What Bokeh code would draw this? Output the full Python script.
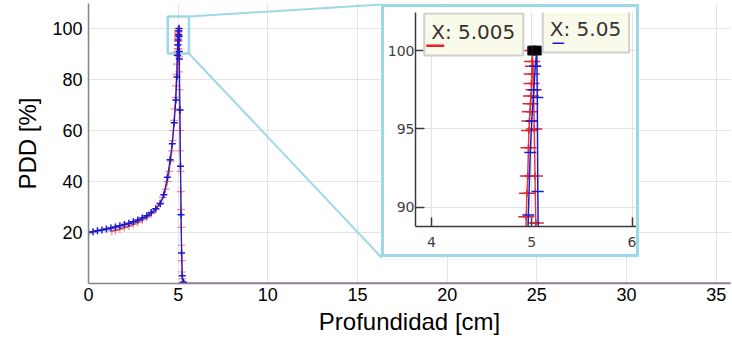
from bokeh.plotting import figure
from bokeh.models import Range1d, FixedTicker, Label
from bokeh.embed import file_html
from bokeh.resources import INLINE

# ---------------- data ----------------
depth_blue = [0.00, 0.25, 0.50, 0.75, 1.00, 1.25, 1.50, 1.75, 2.00, 2.25, 2.50, 2.75,
              3.00, 3.25, 3.50, 3.75, 4.00, 4.20, 4.40, 4.55, 4.67, 4.78, 4.87, 4.93,
              4.966, 4.985, 5.00, 5.02, 5.035, 5.05, 5.055, 5.06, 5.065, 5.10, 5.13,
              5.16, 5.19, 5.23, 5.28, 5.32]
pdd_blue = [20.0, 20.3, 20.7, 21.0, 21.4, 21.8, 22.2, 22.6, 23.1, 23.6, 24.2, 24.9,
            25.7, 26.6, 27.8, 29.3, 31.3, 34.8, 41.7, 48.5, 54.8, 63.0, 72.0, 81.0,
            89.5, 93.5, 95.5, 97.5, 99.0, 100.0, 97.0, 91.0, 88.0, 68.0, 46.0,
            27.0, 12.0, 3.0, 0.5, 0.0]

depth_red = [1.30, 1.50, 1.75, 2.00, 2.25, 2.50, 2.75, 3.00, 3.25, 3.50, 3.75, 4.00,
             4.15, 4.30, 4.40, 4.50, 4.58, 4.64, 4.69, 4.73, 4.77, 4.81, 4.85, 4.88,
             4.91, 4.93, 4.945, 4.952, 4.960, 4.967, 4.972, 4.977, 4.982, 4.987, 4.992,
             4.997, 5.000, 5.003, 5.005, 5.012, 5.018, 5.025, 5.032, 5.040, 5.055,
             5.070, 5.085, 5.100, 5.115, 5.130, 5.145, 5.160, 5.175, 5.190, 5.205,
             5.220, 5.240, 5.270, 5.300]
pdd_red = [20.5, 20.8, 21.3, 21.9, 22.5, 23.2, 24.0, 24.9, 26.0, 27.4, 29.2, 31.6,
           33.8, 37.0, 40.0, 44.0, 48.0, 52.0, 56.0, 60.0, 64.0, 68.5, 73.0, 77.5,
           82.0, 86.0, 89.4, 90.9, 92.0, 93.8, 94.9, 95.5, 96.1, 96.6, 97.1,
           97.9, 98.5, 99.3, 100.0, 99.0, 97.5, 95.0, 92.0, 89.0, 83.0,
           76.0, 68.0, 60.0, 52.0, 44.0, 36.0, 29.0, 22.0, 15.0, 9.0,
           4.5, 1.8, 0.5, 0.0]

tail_depth = [5.32, 36.0]
tail_pdd = [0.0, 0.0]

tip_depth = [5.005, 5.05]
tip_pdd = [100.0, 100.0]
tip_labels = ["X: 5.005", "X: 5.05"]

x_ticks = [0, 5, 10, 15, 20, 25, 30, 35]
y_ticks = [20, 40, 60, 80, 100]
inset_x_ticks = [4, 5, 6]
inset_y_ticks = [90, 95, 100]

# zoom window drawn on the main plot and connector end points
zoom_left, zoom_right, zoom_bottom, zoom_top = 4.42, 5.6, 90.2, 104.7
conn_x, conn_top, conn_bottom = 16.34, 109.4, 10.2

BLUE = "#1a1ad0"
RED = "#e0262e"
CYAN = "#9dd8e8"
MAIN_FONT = "Liberation Sans"
INSET_FONT = "DejaVu Sans"

# ---------------- main figure ----------------
p = figure(width=732, height=341, x_range=Range1d(0, 35.8), y_range=Range1d(0, 109.8),
           output_backend="svg", toolbar_location=None,
           min_border_left=88, min_border_right=2, min_border_top=3, min_border_bottom=58)
p.outline_line_color = None
p.background_fill_color = "white"
p.border_fill_color = "white"

p.xaxis.ticker = FixedTicker(ticks=x_ticks)
p.yaxis.ticker = FixedTicker(ticks=y_ticks)
p.xgrid.ticker = FixedTicker(ticks=x_ticks)
p.ygrid.ticker = FixedTicker(ticks=y_ticks)
p.grid.grid_line_color = "#e4e4e4"
p.grid.grid_line_width = 1

for ax in (p.xaxis[0], p.yaxis[0]):
    ax.axis_line_color = "#858585"
    ax.axis_line_width = 1.5
    ax.major_tick_out = 0
    ax.major_tick_in = 0
    ax.minor_tick_out = 0
    ax.minor_tick_in = 0
    ax.major_label_text_font = MAIN_FONT
    ax.major_label_text_font_size = "18px"
    ax.major_label_text_color = "black"
    ax.axis_label_text_font = MAIN_FONT
    ax.axis_label_text_font_size = "24px"
    ax.axis_label_text_font_style = "normal"
    ax.axis_label_text_color = "black"
p.xaxis.axis_label = "Profundidad [cm]"
p.yaxis.axis_label = "PDD [%]"
p.xaxis.major_label_standoff = 4
p.yaxis.major_label_standoff = 6
p.xaxis.axis_label_standoff = 4
p.yaxis.axis_label_standoff = 8

# connectors and zoom box
p.segment(x0=[zoom_right, zoom_right], y0=[zoom_top, zoom_bottom],
          x1=[conn_x, conn_x], y1=[conn_top, conn_bottom], line_color=CYAN, line_width=2)
p.quad(left=[zoom_left], right=[zoom_right], bottom=[zoom_bottom], top=[zoom_top],
       fill_color=None, line_color=CYAN, line_width=2.5)

# curves
p.line(tail_depth, tail_pdd, line_color=BLUE, line_width=2, line_alpha=0.6)
p.line(tail_depth, tail_pdd, line_color=RED, line_width=2, line_alpha=0.4)
p.line(depth_red, pdd_red, line_color=RED, line_width=1.2, line_alpha=0.8)
p.scatter(depth_red, pdd_red, marker="cross", size=8, line_color=RED, line_alpha=0.5, line_width=1.2)
p.line(depth_blue, pdd_blue, line_color=BLUE, line_width=1.2)
p.scatter(depth_blue, pdd_blue, marker="cross", size=7, line_color=BLUE, line_width=1.5)

# ---------------- inset ----------------
inset = figure(width=252, height=247, x_range=Range1d(3.842, 6.043), y_range=Range1d(88.77, 102.43),
               output_backend="svg", toolbar_location=None,
               min_border_left=29, min_border_right=0, min_border_top=5, min_border_bottom=28)
inset.styles = {"position": "absolute", "left": "384px", "top": "7px",
                "box-shadow": "0 0 0 3px " + CYAN, "z-index": "5", "background": "white"}
inset.outline_line_color = None
inset.xaxis.ticker = FixedTicker(ticks=inset_x_ticks)
inset.yaxis.ticker = FixedTicker(ticks=inset_y_ticks)
inset.xgrid.ticker = FixedTicker(ticks=inset_x_ticks)
inset.ygrid.ticker = FixedTicker(ticks=inset_y_ticks)
inset.grid.grid_line_color = "#e2e2e2"
for ax in (inset.xaxis[0], inset.yaxis[0]):
    ax.axis_line_color = "#3a3a3a"
    ax.axis_line_width = 1.5
    ax.major_tick_out = 0
    ax.major_tick_in = 9
    ax.major_tick_line_color = "#3a3a3a"
    ax.major_tick_line_width = 1.5
    ax.minor_tick_out = 0
    ax.minor_tick_in = 0
    ax.major_label_text_font = INSET_FONT
    ax.major_label_text_font_size = "14px"
    ax.major_label_text_color = "#404040"
inset.xaxis.major_label_standoff = 10
inset.yaxis.major_label_standoff = 1

inset.line(depth_red, pdd_red, line_color=RED, line_width=1.5, line_alpha=0.9)
inset.scatter(depth_red, pdd_red, marker="dash", size=16, line_color=RED, line_width=1.5)
inset.scatter(depth_red, pdd_red, marker="cross", size=7, line_color=RED, line_width=1.5)
inset.line(depth_blue, pdd_blue, line_color=BLUE, line_width=1.5)
inset.scatter(depth_blue, pdd_blue, marker="dash", size=12, line_color=BLUE, line_width=1.5)
inset.scatter(tip_depth, tip_pdd, marker="square", size=9, fill_color="black",
              line_color="#222222")

# data tips
tip_offsets = [(-9, -5), (6, -2)]
tip_align = ["right", "left"]
under_offsets = [(-107, 7), (15, 8)]
under_text = ["\u2014", "\u2014"]
under_sizes = ["20px", "13px"]
tip_colors = [RED, BLUE]
for i in range(2):
    inset.add_layout(Label(x=tip_depth[i], y=tip_pdd[i], text=tip_labels[i],
                           x_offset=tip_offsets[i][0], y_offset=tip_offsets[i][1],
                           text_align=tip_align[i], text_baseline="bottom",
                           text_font=INSET_FONT, text_font_size="20px",
                           text_color="#333333",
                           padding=dict(left=7, right=8, top=6, bottom=12),
                           background_fill_color="#fafaea",
                           border_line_color="#cfcfcf", border_line_width=2))
    inset.add_layout(Label(x=tip_depth[i], y=tip_pdd[i], text=under_text[i],
                           x_offset=under_offsets[i][0], y_offset=under_offsets[i][1],
                           text_align="left", text_baseline="middle",
                           text_font=INSET_FONT, text_font_size=under_sizes[i],
                           text_font_style="bold", text_color=tip_colors[i]))

with open("out.html", "w") as f:
    f.write(file_html([p, inset], INLINE))
